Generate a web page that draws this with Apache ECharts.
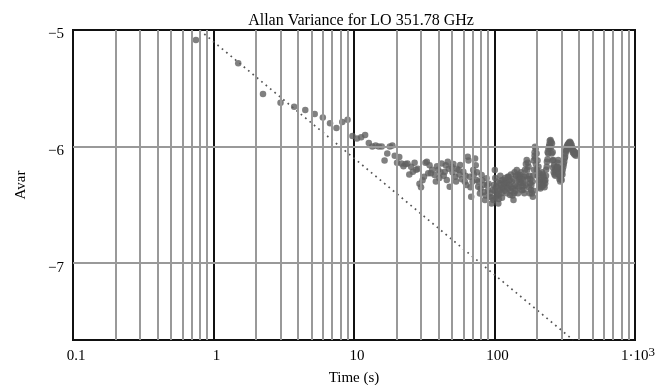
<!DOCTYPE html>
<html><head><meta charset="utf-8">
<script src="https://cdn.jsdelivr.net/npm/echarts@6/dist/echarts.min.js"></script>
<style>html,body{margin:0;padding:0;background:#fff}#c{width:665px;height:385px}</style>
</head><body><div id="c"></div>
<script>
const titleText = 'Allan Variance for LO 351.78 GHz';
const xName = 'Time (s)';
const yName = 'Avar';
const xTickLabels = ['0.1', '1', '10', '100', '1·10{s|3}'];
const xTickValues = [0.1, 1, 10, 100, 1000];
const yTickValues = [-5, -6, -7];
const minorGridX = [0.2,0.3,0.4,0.5,0.6,0.7,0.8,0.9,2,3,4,5,6,7,8,9,20,30,40,50,60,70,80,90,200,300,400,500,600,700,800,900];
const gridY = [-6, -7];

const tau = [0.75,1.5,2.25,3.0,3.75,4.5,5.25,6.0,6.75,7.5,8.25,9.0,9.75,10.5,11.25,12.0,12.75,13.5,14.25,15.0,15.75,16.5,17.25,18.0,18.75,19.5,20.25,21.0,21.75,22.5,23.25,24.0,24.75,25.5,26.25,27.0,27.75,28.5,29.25,30.0,30.75,31.5,32.25,33.0,33.75,34.5,35.25,36.0,37.5,38.25,39.0,39.75,40.5,41.25,42.0,43.5,44.25,45.0,45.75,46.5,47.25,48.0,49.5,50.25,51.0,52.5,53.25,54.0,55.5,56.25,57.0,58.5,60.0,61.5,62.25,63.0,64.5,65.25,66.75,67.5,68.25,69.75,70.5,71.25,72.75,73.5,74.25,75.0,76.5,77.25,78.75,79.5,81.0,81.75,83.25,84.0,85.5,86.25,87.75,88.5,90.0,90.75,92.25,93.0,95.25,96.0,97.5,98.25,99.0,100.5,101.25,102.75,103.5,105.0,106.5,107.25,108.75,109.5,111.0,112.5,114.0,115.5,117.0,118.5,120.0,121.5,123.0,124.5,126.0,127.5,129.0,130.5,132.0,134.25,136.5,138.0,140.25,142.5,144.0,146.25,148.5,150.0,152.25,154.5,156.75,159.0,160.5,162.75,165.0,167.25,169.5,172.5,174.75,177.0,179.25,181.5,184.5,187.5,189.75,191.25,192.75,194.25,196.5,199.5,202.5,205.5,208.5,211.5,214.5,217.5,220.5,223.5,226.5,229.5,232.5,235.5,238.5,241.5,244.5,247.5,250.5,253.5,256.5,259.5,262.5,265.5,269.25,273.0,277.5,281.25,284.25,288.0,292.5,296.25,300.75,304.5,309.0,313.5,318.0,322.5,326.25,330.75,336.0,340.5,344.25,348.75,354.0,358.5,363.75,369.0,375.0,384.75,
100.0,102,104,106,108,110,112,113,116,119,122,125,128,131,133,135,137,139,141,145,147,149,151,153,155,158,161,163,166,168,171,173,176,178,180,183,186,188,190,193,195,197,200,203,206,209,212,215,218,221,224,227,230,233,236,239,242,246,249,252,255,258,261,264,267,271,275,279,283,287,290,294,298,302,306,311,316,320,324,328,333,338,342,346,351,356,361,366,372,380];
const avar = [-5.086,-5.286,-5.55,-5.624,-5.658,-5.687,-5.72,-5.75,-5.80,-5.84,-5.79,-5.77,-5.91,-5.93,-5.92,-5.90,-5.97,-6.00,-5.99,-6.00,-6.00,-6.12,-6.06,-6.00,-5.99,-6.08,-6.14,-6.09,-6.145,-6.17,-6.15,-6.145,-6.24,-6.173,-6.216,-6.14,-6.20,-6.19,-6.32,-6.35,-6.29,-6.26,-6.14,-6.13,-6.23,-6.16,-6.23,-6.20,-6.245,-6.30,-6.17,-6.20,-6.27,-6.22,-6.145,-6.25,-6.216,-6.16,-6.288,-6.13,-6.19,-6.345,-6.173,-6.22,-6.15,-6.259,-6.30,-6.19,-6.202,-6.24,-6.159,-6.28,-6.216,-6.302,-6.25,-6.33,-6.087,-6.12,-6.259,-6.35,-6.431,-6.30,-6.202,-6.24,-6.102,-6.16,-6.288,-6.22,-6.345,-6.30,-6.402,-6.36,-6.245,-6.29,-6.331,-6.39,-6.459,-6.42,-6.273,-6.33,-6.374,-6.32,-6.431,-6.40,-6.488,-6.44,-6.37,-6.459,-6.33,-6.202,-6.27,-6.345,-6.40,-6.42,-6.488,-6.45,-6.316,-6.37,-6.33,-6.29,-6.36,-6.288,-6.32,-6.38,-6.30,-6.345,-6.31,-6.26,-6.259,-6.33,-6.416,-6.38,-6.35,-6.42,-6.459,-6.40,-6.331,-6.25,-6.202,-6.24,-6.288,-6.26,-6.245,-6.31,-6.374,-6.34,-6.316,-6.26,-6.20,-6.15,-6.116,-6.14,-6.173,-6.25,-6.316,-6.37,-6.402,-6.431,-6.38,-6.20,-6.08,-6.002,-6.02,-6.059,-6.12,-6.173,-6.23,-6.288,-6.32,-6.345,-6.30,-6.259,-6.29,-6.316,-6.25,-6.173,-6.11,-6.059,-6.00,-5.95,-5.944,-5.96,-5.973,-6.05,-6.116,-6.16,-6.202,-6.19,-6.173,-6.14,-6.116,-6.19,-6.259,-6.28,-6.288,-6.24,-6.173,-6.13,-6.087,-6.04,-6.002,-5.985,-5.973,-5.965,-5.959,-5.97,-5.987,-6.01,-6.03,-6.045,-6.05,-6.059,
-6.38,-6.44,-6.30,-6.36,-6.41,-6.25,-6.40,-6.44,-6.35,-6.27,-6.40,-6.36,-6.29,-6.24,-6.30,-6.36,-6.28,-6.22,-6.38,-6.34,-6.40,-6.35,-6.30,-6.28,-6.22,-6.28,-6.37,-6.40,-6.33,-6.25,-6.20,-6.28,-6.35,-6.40,-6.28,-6.33,-6.30,-6.25,-6.12,-6.05,-6.10,-6.15,-6.20,-6.25,-6.30,-6.35,-6.36,-6.27,-6.22,-6.24,-6.33,-6.35,-6.29,-6.20,-6.13,-6.05,-6.02,-5.98,-6.00,-6.01,-6.06,-6.12,-6.18,-6.22,-6.24,-6.25,-6.22,-6.20,-6.18,-6.24,-6.28,-6.30,-6.25,-6.22,-6.20,-6.15,-6.10,-6.06,-6.03,-6.02,-5.99,-5.98,-6.00,-5.99,-6.01,-6.03,-6.05,-6.06,-6.07,-6.08];

const refTau = [0.8, 362];
const refAvar = [-5.003, -7.659];

const FONT = "'Liberation Serif', 'Times New Roman', serif";
const chart = echarts.init(document.getElementById('c'), null, {renderer: 'canvas'});
const pts = tau.map((t, i) => [t, avar[i]]);
const ref = refTau.map((t, i) => [t, refAvar[i]]);

chart.setOption({
  animation: false,
  backgroundColor: '#fff',
  title: {
    text: titleText, left: 356, top: 8, textAlign: 'center',
    textStyle: {fontFamily: FONT, fontSize: 16, fontWeight: 'normal', color: '#000'}
  },
  grid: {left: 73, right: 30, top: 30, bottom: 45, containLabel: false, outerBoundsMode: 'none',
         show: true, borderColor: '#111', borderWidth: 2, backgroundColor: 'transparent'},
  xAxis: {
    type: 'log', logBase: 10, min: 0.1, max: 1000,
    name: xName, nameLocation: 'middle', nameGap: 29,
    nameTextStyle: {fontFamily: FONT, fontSize: 15, color: '#000'},
    axisLine: {show: true, lineStyle: {color: '#111', width: 2}},
    axisTick: {show: false},
    axisLabel: {
      fontFamily: FONT, fontSize: 15, color: '#000', margin: 6, padding: [0, 0, 0, 6],
      verticalAlign: 'top', lineHeight: 20,
      rich: {s: {fontFamily: FONT, fontSize: 13, color: '#000', verticalAlign: 'top', lineHeight: 12}},
      formatter: v => { const k = xTickValues.findIndex(x => Math.abs(Math.log10(x) - Math.log10(v)) < 1e-6); return k >= 0 ? xTickLabels[k] : ''; }
    },
    splitLine: {show: true, lineStyle: {color: '#111', width: 2}}
  },
  yAxis: {
    type: 'value', min: -7.66, max: -5,
    name: yName, nameLocation: 'middle', nameGap: 44, nameRotate: 90,
    nameTextStyle: {fontFamily: FONT, fontSize: 15, color: '#000'},
    axisLine: {show: true, lineStyle: {color: '#111', width: 2}},
    axisTick: {show: false},
    axisLabel: {
      fontFamily: FONT, fontSize: 15, color: '#000', margin: 9,
      verticalAlign: 'top', lineHeight: 9,
      formatter: v => { const k = yTickValues.findIndex(y => Math.abs(y - v) < 1e-6); return k >= 0 ? '\u2212' + Math.abs(yTickValues[k]) : ''; }
    },
    splitLine: {show: false}
  },
  series: [
    {
      type: 'line', data: [], z: 1, silent: true,
      markLine: {
        silent: true, symbol: 'none', animation: false,
        label: {show: false},
        lineStyle: {color: '#999', width: 2, type: 'solid'},
        data: minorGridX.map(v => ({xAxis: v})).concat(gridY.map(v => ({yAxis: v})))
      }
    },
    {
      type: 'line', data: ref, z: 3, symbol: 'none', clip: true,
      lineStyle: {color: '#555', width: 1.7, type: [1.7, 4]}
    },
    {
      type: 'scatter', data: pts, z: 4, symbol: 'circle', symbolSize: 6.5,
      itemStyle: {color: '#606060'}
    }
  ]
});
</script></body></html>
